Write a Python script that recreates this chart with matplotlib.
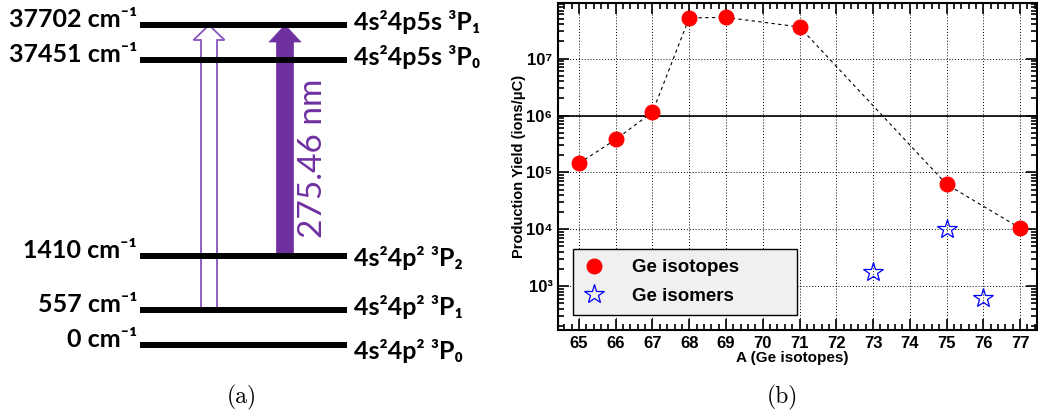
import math
import matplotlib
matplotlib.use('Agg')
import matplotlib.pyplot as plt
from matplotlib.patches import FancyArrow
from matplotlib.ticker import MultipleLocator, FuncFormatter, LogLocator

plt.rcParams['font.family'] = ['Liberation Sans', 'DejaVu Sans']

# (a) Ge atomic levels
level_energy = [0, 557, 1410, 37451, 37702]
level_term = ['4s²4p² ³P₀', '4s²4p² ³P₁', '4s²4p² ³P₂', '4s²4p5s ³P₀', '4s²4p5s ³P₁']
wavelength_label = '275.46 nm'

# (b) production yields
A_iso = [65, 66, 67, 68, 69, 71, 75, 77]
yield_iso = [1.45e5, 3.8e5, 1.15e6, 5.2e7, 5.3e7, 3.6e7, 6.2e4, 1.05e4]
A_isomer = [73, 75, 76]
yield_isomer = [1.8e3, 1.0e4, 6.2e2]

purple = '#7030a0'
label_font = ['Lato', 'DejaVu Sans']
term_baseline_shift = [14, 5, 10, 5, 5]


def level_y(E):
    # broken energy scale -> pixel row on the left panel
    if E > 20000:
        return 60 - (E - 37451) * 0.1394
    return 345 - E * 0.0628


fig = plt.figure(figsize=(10.38, 4.16), dpi=100)

axL = fig.add_axes([0, 0, 0.5, 1])
axL.set_xlim(0, 519)
axL.set_ylim(416, 0)
axL.axis('off')

for E, term, dy in zip(level_energy, level_term, term_baseline_shift):
    y = level_y(E)
    axL.plot([140, 347], [y, y], color='black', lw=4.3, solid_capstyle='butt', zorder=3)
    axL.text(137, y + 2, '%d cm⁻¹' % E, ha='right', va='baseline', fontsize=18,
             family=label_font, fontweight='bold')
    axL.text(354, y + dy, term, ha='left', va='baseline', fontsize=18,
             family=label_font, fontweight='bold')

y_top = level_y(37702)
y_557 = level_y(557)
y_1410 = level_y(1410)
axL.add_patch(FancyArrow(209, y_557, 0, y_top - y_557, width=16, head_width=31, head_length=15,
                         length_includes_head=True, facecolor='none', edgecolor='#8a55c0', lw=1.3, zorder=2))
axL.add_patch(FancyArrow(285, y_1410, 0, y_top - y_1410, width=17, head_width=32, head_length=17,
                         length_includes_head=True, facecolor=purple, edgecolor=purple, lw=0.5, zorder=2))
axL.text(313, 158, wavelength_label, rotation=90, ha='center', va='center', color=purple,
         fontsize=24, family='Lato')

# (b)
axR = fig.add_axes([0.5376, 0.2067, 0.4614, 0.7861])
axR.set_yscale('log')
axR.plot(A_iso, yield_iso, color='black', lw=0.8, ls=(0, (3, 3)), zorder=3)
axR.plot(A_iso, yield_iso, ls='none', marker='o', ms=10.5, color='red', label='Ge isotopes', zorder=4)
axR.plot(A_isomer, yield_isomer, ls='none', marker='*', ms=15, mfc='none', mec='blue', mew=0.9,
         label='Ge isomers', zorder=4)
axR.axhline(1e6, color='black', lw=1.2, zorder=2)

axR.set_xlim(64.43, 77.46)
axR.set_ylim(170, 9.5e7)
axR.set_xticks(range(65, 78))
axR.xaxis.set_minor_locator(MultipleLocator(0.2))
axR.yaxis.set_major_locator(LogLocator(base=10))
axR.yaxis.set_minor_locator(LogLocator(base=10, subs=range(2, 10)))
sup = str.maketrans('0123456789', '⁰¹²³⁴⁵⁶⁷⁸⁹')
axR.yaxis.set_major_formatter(FuncFormatter(lambda v, _: '10' + str(int(round(math.log10(v)))).translate(sup)))
axR.yaxis.set_minor_formatter(FuncFormatter(lambda v, _: ''))

axR.grid(which='major', ls=(0, (1, 2)), color='black', lw=0.7)
axR.tick_params(which='both', direction='in', top=True, right=True, width=1.2)
axR.tick_params(which='major', length=8, labelsize=12, pad=4)
axR.tick_params(which='minor', length=4)
for lab in axR.get_xticklabels() + axR.get_yticklabels():
    lab.set_fontweight('bold')
for sp in axR.spines.values():
    sp.set_linewidth(1.5)

axR.set_ylabel('Production Yield (ions/μC)', fontsize=10.5, fontweight='bold')
axR.yaxis.set_label_coords(-0.067, 0.5)
axR.set_xlabel('A (Ge isotopes)', fontsize=11, fontweight='bold')
axR.xaxis.set_label_coords(0.489, -0.064)

leg = axR.legend(loc='lower left', bbox_to_anchor=(0.031, 0.046, 0.468, 0.217), mode='expand',
                 fancybox=False, framealpha=1, facecolor='#f0f0f0', edgecolor='black',
                 prop={'weight': 'bold', 'size': 13.5}, borderaxespad=0, borderpad=0.55,
                 labelspacing=0.6, handlelength=1.2, handletextpad=1.4)
leg.get_frame().set_linewidth(1.0)

fig.text(242 / 1038, 1 - 397 / 416, '(a)', family='cmr10', fontsize=17, ha='center', va='center')
fig.text(782 / 1038, 1 - 397 / 416, '(b)', family='cmr10', fontsize=17, ha='center', va='center')

fig.savefig('out.png', dpi=100)
